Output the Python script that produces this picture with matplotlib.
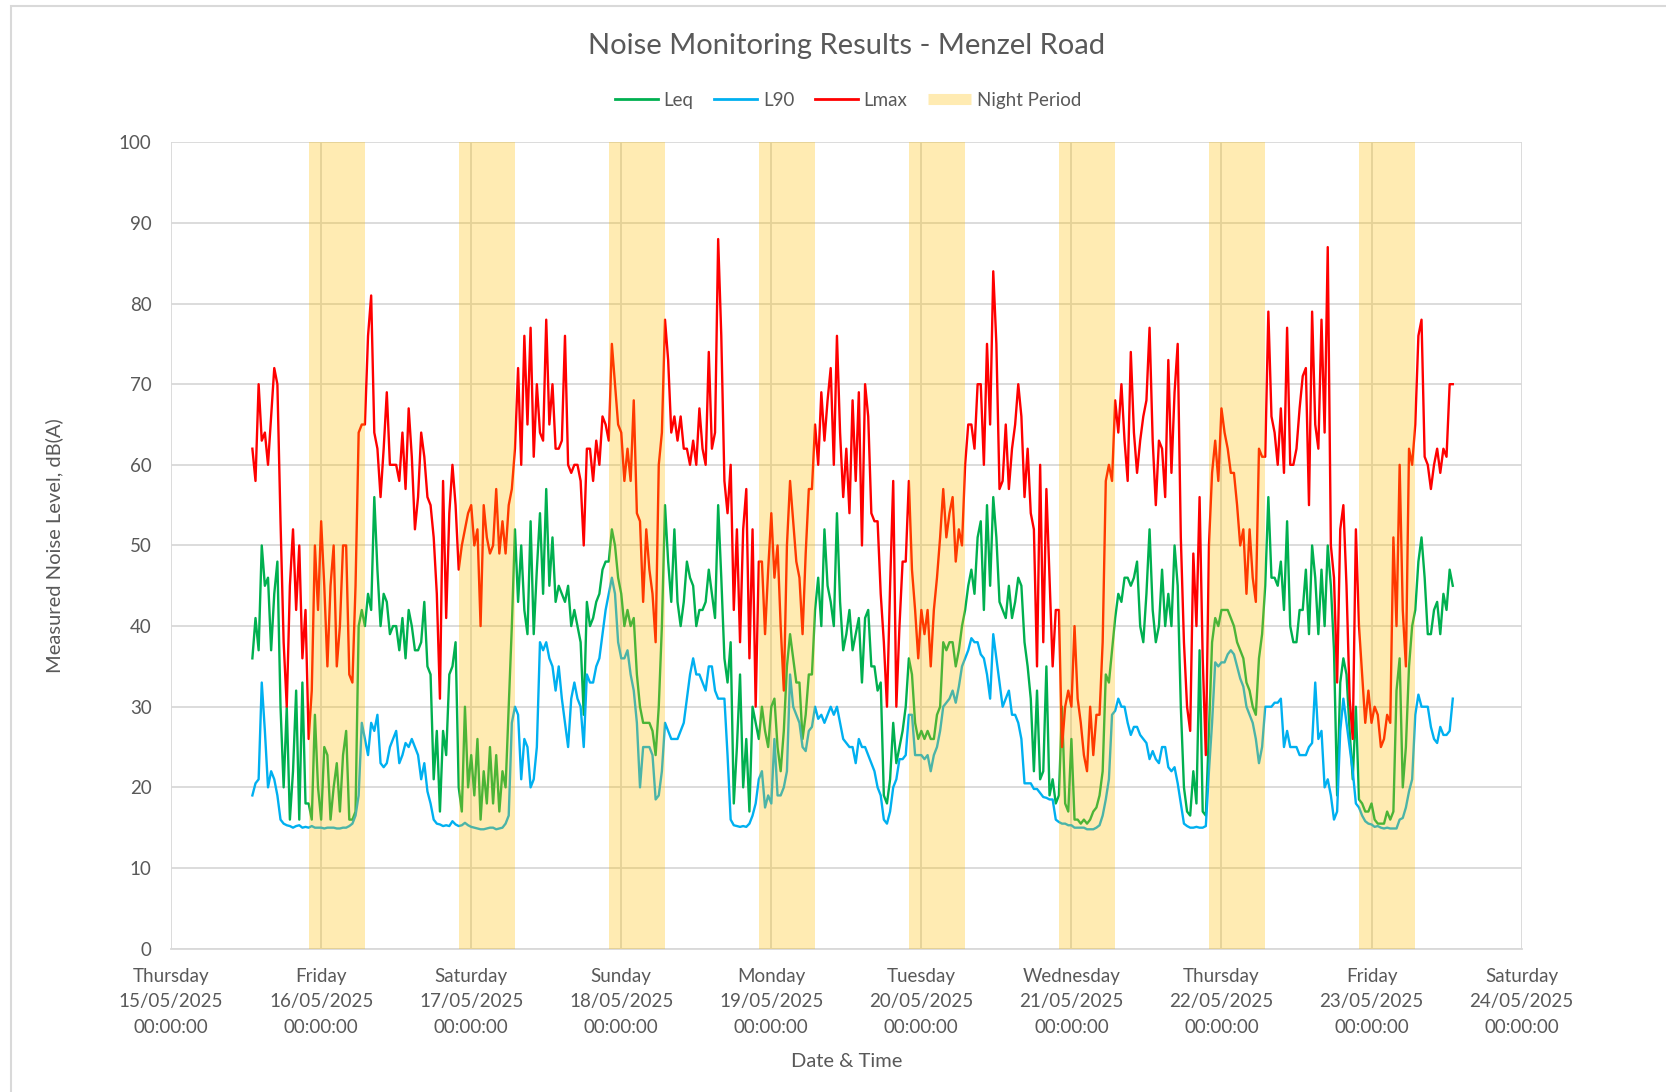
import pandas as pd
import matplotlib
matplotlib.use('Agg')
import matplotlib.pyplot as plt
import matplotlib.dates as mdates
from matplotlib.lines import Line2D
from matplotlib.patches import Rectangle

plt.rcParams['font.family'] = ['Lato', 'DejaVu Sans']

# 30-minute readings, 15/05/2025 13:00 -> 23/05/2025 13:00
times = pd.date_range('2025-05-15 13:00', periods=385, freq='30min')

leq = [
    36, 41, 37, 50, 45, 46, 37, 44, 48, 30, 20, 30, 16, 22, 32, 16, 33, 18, 18, 16,
    29, 20, 16, 25, 24, 16, 20, 23, 17, 24, 27, 16, 16, 17, 40, 42, 40, 44, 42, 56,
    47, 40, 44, 43, 39, 40, 40, 37,
    41, 36, 42, 40, 37, 37, 38, 43, 35, 34, 21, 27, 17, 27, 24, 34, 35, 38, 20, 17,
    30, 20, 24, 19, 26, 16, 22, 18, 25, 18, 24, 17, 22, 20, 30, 40, 52, 43, 50, 42,
    39, 53, 39, 47, 54, 44, 57, 45, 51, 43,
    45, 44, 43, 45, 40, 42, 40, 38, 29, 43, 40, 41, 43, 44, 47, 48, 48, 52, 50, 46,
    44, 40, 42, 40, 41, 34, 30, 28, 28, 28, 27, 24, 30, 40, 55, 48, 43, 52, 43, 40,
    43, 48, 46, 45, 40, 42, 42, 43, 47,
    44, 41, 55, 46, 36, 33, 38, 18, 25, 34, 20, 26, 17, 30, 28, 26, 30, 27, 25, 30,
    31, 25, 22, 27, 35, 39, 36, 33, 33, 26, 29, 34, 34, 42, 46, 40, 52, 45, 43, 40,
    54, 43, 37, 39, 42, 37, 39, 41, 33, 41,
    42, 35, 35, 32, 33, 19, 18, 21, 28, 23, 25, 27, 30, 36, 34, 28, 26, 27, 26, 27,
    26, 26, 29, 30, 38, 37, 38, 38, 35, 37, 40, 42, 45, 47, 44, 51, 53, 42, 55, 45,
    56, 51, 43, 42, 41, 45, 41, 43, 46,
    45, 38, 35, 31, 22, 32, 21, 22, 35, 19, 21, 18, 19, 30, 18, 17, 26, 16, 16, 15.5,
    16, 15.5, 16, 17, 17.5, 19, 22, 34, 33, 37, 41, 44, 43, 46, 46, 45, 46, 48, 40, 38,
    44, 52, 42, 38, 40, 47, 40, 44, 40, 50,
    45, 30, 20, 17, 16.5, 22, 18, 37, 17, 16.5, 27, 38, 41, 40, 42, 42, 42, 41, 40, 38,
    37, 36, 33, 32, 30, 29, 36, 39, 45, 56, 46, 46, 45, 48, 42, 53, 40, 38, 38, 42,
    42, 47, 39, 50, 46, 39, 47, 40,
    50, 45, 37, 19, 33, 36, 34, 27, 21, 30, 18.5, 18, 17, 17, 18, 16, 15.5, 15.5, 15.5, 17,
    16, 17, 32, 36, 20, 25, 35, 40, 42, 48, 51, 46, 39, 39, 42, 43, 39, 44, 42, 47, 45,
]

l90 = [
    19, 20.5, 21, 33, 27, 20, 22, 21, 19, 16, 15.5, 15.3, 15.2, 15.0, 15.2, 15.3, 15.0, 15.1, 15.0, 15.2,
    15, 15, 15, 14.9, 15, 15, 15, 14.9, 14.9, 15, 15, 15.2, 15.5, 16.5, 19, 28, 26, 24, 28, 27,
    29, 23, 22.5, 23, 25, 26, 27, 23,
    24, 25.5, 25, 26, 25, 24, 21, 23, 19.5, 18, 16, 15.5, 15.4, 15.2, 15.3, 15.2, 15.8, 15.4, 15.2, 15.3,
    15.6, 15.3, 15.1, 15.0, 14.9, 14.8, 14.8, 14.9, 15, 15, 14.8, 14.9, 15, 15.5, 16.5, 28, 30, 29, 21, 26,
    25, 20, 21, 25, 38, 37, 38, 36, 35, 32,
    35, 31, 28, 25, 31, 33, 31, 30, 25, 34, 33, 33, 35, 36, 39, 42, 44, 46, 44, 38,
    36, 36, 37, 34, 32, 28, 20, 25, 25, 25, 24, 18.5, 19, 22, 28, 27, 26, 26, 26, 27,
    28, 31, 34, 36, 34, 34, 33, 32, 35,
    35, 32, 31, 31, 31, 24, 16, 15.3, 15.2, 15.1, 15.2, 15.1, 15.5, 16.5, 18, 21, 22, 17.5, 19, 18,
    26, 19, 19, 20, 22, 34, 30, 29, 28, 25, 24.5, 27, 27.5, 30, 28.5, 29, 28, 29, 30, 29,
    30, 28, 26, 25.5, 25, 25, 23, 26, 25, 25,
    24, 23, 22, 20, 19, 16, 15.5, 17, 20, 21, 23.5, 23.5, 24, 29, 29, 24, 24, 24, 23.5, 24,
    22, 24, 25, 27, 30, 30.5, 31, 32, 30.5, 32.5, 35, 36, 37, 38.5, 38, 38, 36.5, 36, 34, 31,
    39, 36, 33, 30, 31, 32, 29, 29, 28,
    26, 20.5, 20.5, 20.5, 19.8, 19.8, 19.3, 18.8, 18.7, 18.5, 18.5, 16, 15.7, 15.5, 15.5, 15.3, 15.3, 15, 15, 15,
    15, 14.8, 14.8, 14.8, 15, 15.3, 16.5, 18.5, 21, 29, 29.5, 31, 30, 30, 28, 26.5, 27.5, 27.5, 26.5, 26,
    25.5, 23.5, 24.5, 23.5, 23, 25, 25, 22.5, 22, 22.5,
    20.5, 18, 15.5, 15.2, 15.0, 15.0, 15.1, 15.0, 15, 15.2, 22, 28, 35.5, 35, 35.5, 35.5, 36.5, 37, 36.5, 35,
    33.5, 32.5, 30, 29, 28, 26, 23, 25, 30, 30, 30, 30.5, 30.5, 31, 25, 27, 25, 25, 25, 24,
    24, 24, 25, 25.5, 33, 26, 27, 20,
    21, 19, 16, 17, 27, 31, 28, 25, 22, 18, 17.5, 16.5, 15.8, 15.5, 15.4, 15.1, 15.2, 15, 14.9, 15,
    14.9, 14.9, 14.9, 16, 16.2, 17.5, 19.5, 21, 29, 31.5, 30, 30, 30, 27.5, 26, 25.5, 27.5, 26.5, 26.5, 27, 31,
]

lmax = [
    62, 58, 70, 63, 64, 60, 66, 72, 70, 53, 38, 30, 45, 52, 42, 50, 36, 42, 26, 32,
    50, 42, 53, 45, 35, 45, 50, 35, 40, 50, 50, 34, 33, 45, 64, 65, 65, 76, 81, 64,
    62, 56, 62, 69, 60, 60, 60, 58,
    64, 57, 67, 61, 52, 56, 64, 61, 56, 55, 51, 44, 31, 58, 41, 54, 60, 55, 47, 50,
    52, 54, 55, 50, 52, 40, 55, 51, 49, 50, 57, 49, 53, 49, 55, 57, 62, 72, 60, 76,
    65, 77, 61, 70, 64, 63, 78, 65, 70, 62,
    62, 63, 76, 60, 59, 60, 60, 58, 50, 62, 62, 58, 63, 60, 66, 65, 63, 75, 70, 65,
    64, 58, 62, 58, 68, 54, 53, 43, 52, 47, 44, 38, 60, 64, 78, 73, 64, 66, 63, 66,
    62, 62, 60, 63, 60, 67, 62, 60, 74,
    62, 64, 88, 76, 58, 54, 60, 42, 52, 38, 52, 57, 36, 52, 30, 48, 48, 39, 47, 54,
    46, 50, 40, 32, 50, 58, 53, 48, 46, 39, 49, 57, 57, 65, 60, 69, 63, 68, 72, 60,
    76, 64, 56, 62, 54, 68, 58, 69, 50, 70,
    66, 54, 53, 53, 44, 38, 30, 45, 58, 30, 40, 48, 48, 58, 47, 42, 36, 42, 39, 42,
    35, 42, 46, 51, 57, 51, 54, 56, 48, 52, 50, 60, 65, 65, 62, 70, 70, 60, 75, 65,
    84, 75, 57, 58, 65, 57, 62, 65, 70,
    66, 56, 62, 54, 52, 35, 60, 38, 57, 46, 35, 42, 42, 25, 30, 32, 30, 40, 31, 28,
    24, 22, 30, 24, 29, 29, 38, 58, 60, 58, 68, 64, 70, 63, 58, 74, 64, 59, 63, 66,
    68, 77, 63, 55, 63, 62, 56, 73, 59, 69,
    75, 51, 38, 30, 27, 49, 40, 56, 36, 24, 50, 59, 63, 58, 67, 64, 62, 59, 59, 55,
    50, 52, 44, 52, 46, 43, 62, 61, 61, 79, 66, 64, 60, 67, 59, 77, 60, 60, 62, 67,
    71, 72, 55, 79, 65, 62, 78, 64,
    87, 50, 46, 33, 52, 55, 45, 31, 26, 52, 40, 34, 28, 32, 28, 30, 29, 25, 26, 29,
    28, 51, 40, 60, 42, 35, 62, 60, 65, 76, 78, 61, 60, 57, 60, 62, 59, 62, 61, 70, 70,
]

# night period 22:00 - 07:00
night_starts = ['2025-05-15 22:00', '2025-05-16 22:00', '2025-05-17 22:00', '2025-05-18 22:00',
                '2025-05-19 22:00', '2025-05-20 22:00', '2025-05-21 22:00', '2025-05-22 22:00']
night_hours = 9

text_col = '#595959'
grid_col = '#D9D9D9'

fig = plt.figure(figsize=(16.66, 10.92), dpi=100)
ax = fig.add_axes([0.1027, 0.1313, 0.8106, 0.7384])

ax.plot(times, leq, color='#00B050', lw=1.7, zorder=3)
ax.plot(times, l90, color='#00B0F0', lw=1.7, zorder=3)
ax.plot(times, lmax, color='#FF0000', lw=1.7, zorder=3)

for ns in night_starts:
    s = pd.Timestamp(ns)
    ax.axvspan(s, s + pd.Timedelta(hours=night_hours), color='#FFC000', alpha=0.3, lw=0, zorder=4)

ax.set_xlim(pd.Timestamp('2025-05-15'), pd.Timestamp('2025-05-24'))
ax.set_ylim(0, 100)
ax.set_yticks(range(0, 101, 10))
ax.xaxis.set_major_locator(mdates.DayLocator())
ax.xaxis.set_major_formatter(mdates.DateFormatter('%A\n%d/%m/%Y\n%H:%M:%S'))

ax.grid(True, color=grid_col, lw=1.3, zorder=0)
ax.set_axisbelow(True)
for side in ['top', 'left', 'right']:
    ax.spines[side].set_visible(False)
ax.spines['bottom'].set_color(grid_col)
ax.spines['bottom'].set_linewidth(1.3)
ax.tick_params(length=0, labelsize=13.5, labelcolor=text_col)
ax.tick_params(axis='x', pad=14)
ax.tick_params(axis='y', pad=14)
for lbl in ax.get_xticklabels():
    lbl.set_linespacing(1.6)

ax.set_xlabel('Date & Time', fontsize=14.5, color=text_col, labelpad=12)
ax.set_ylabel('Measured Noise Level, dB(A)', fontsize=14.5, color=text_col, labelpad=40)

fig.text(0.508, 0.958, 'Noise Monitoring Results - Menzel Road', ha='center', va='center',
         fontsize=21, color=text_col)

handles = [
    Line2D([], [], color='#00B050', lw=2),
    Line2D([], [], color='#00B0F0', lw=2),
    Line2D([], [], color='#FF0000', lw=2),
    Line2D([], [], color='#FFC000', alpha=0.3, lw=8, solid_capstyle='butt'),
]
fig.legend(handles, ['Leq', 'L90', 'Lmax', 'Night Period'], loc='center', ncol=4,
           bbox_to_anchor=(0.509, 0.908), frameon=False, fontsize=13.5,
           handlelength=2.3, handletextpad=0.3, columnspacing=1.1, labelcolor=text_col)

# chart border
fig.patches.append(Rectangle((11 / 1666, -0.05), 1.1, 1 - 6 / 1092 + 0.05, transform=fig.transFigure,
                             fill=False, edgecolor=grid_col, lw=1.5))

fig.savefig('out.png', dpi=100)
